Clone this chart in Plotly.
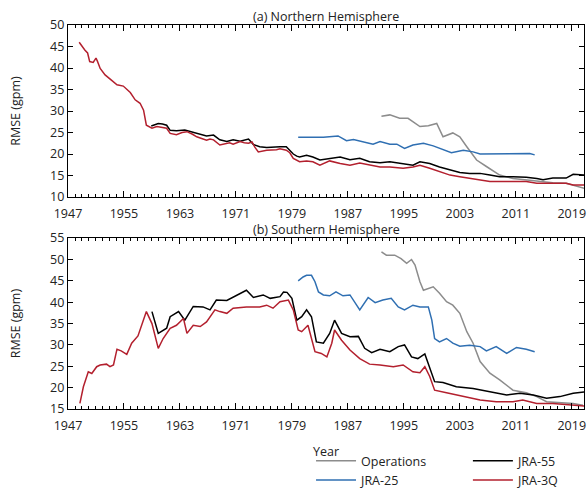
import plotly.graph_objects as go

# ---------------- Data ----------------
# (a) Northern Hemisphere
nh_ops_year = [1991.8, 1993.0, 1994.4, 1995.6, 1997.3, 1998.5, 1999.7, 2000.6, 2002.0, 2003.0,
               2004.0, 2005.4, 2006.8, 2008.7, 2010.6, 2012.5, 2014.4, 2016.3, 2018.2, 2019.2, 2020.8]
nh_ops_val = [28.8, 29.1, 28.3, 28.3, 26.4, 26.6, 27.1, 24.0, 24.9, 24.0,
              21.7, 18.6, 17.1, 15.1, 14.3, 14.0, 13.6, 13.3, 13.2, 12.8, 12.0]

nh_jra25_year = [1979.9, 1982.0, 1983.5, 1985.6, 1986.8, 1987.8, 1989.2, 1990.6, 1991.6, 1993.0,
                 1994.0, 1995.1, 1996.3, 1997.8, 1999.2, 2000.6, 2001.8, 2003.5, 2004.9, 2005.9,
                 2007.8, 2009.7, 2011.6, 2013.0, 2013.7]
nh_jra25_val = [23.9, 24.0, 23.9, 24.2, 23.1, 23.4, 22.9, 22.3, 22.9, 22.3,
                22.3, 21.3, 22.1, 22.5, 21.9, 21.1, 20.3, 20.9, 20.5, 20.0,
                20.0, 20.0, 20.1, 20.1, 19.8]

nh_jra55_year = [1958.9, 1959.9, 1960.5, 1961.1, 1961.6, 1962.5, 1963.7, 1964.5, 1965.4, 1966.1,
                 1966.8, 1967.8, 1968.7, 1969.7, 1970.6, 1971.6, 1972.8, 1973.5, 1974.4, 1975.4,
                 1976.8, 1977.3, 1978.2, 1978.7, 1979.2, 1979.7, 1980.1, 1981.1, 1982.0, 1983.0,
                 1984.4, 1985.9, 1987.3, 1988.7, 1990.1, 1991.6, 1993.0, 1994.9, 1996.3, 1997.3,
                 1998.7, 2000.1, 2001.6, 2003.0, 2004.4, 2005.9, 2007.3, 2008.7, 2010.6, 2012.5,
                 2014.0, 2014.9, 2016.3, 2018.2, 2019.2, 2020.8]
nh_jra55_val = [26.5, 27.1, 27.0, 26.7, 25.5, 25.4, 25.6, 25.2, 24.9, 24.5,
                24.2, 24.4, 23.3, 22.9, 23.3, 23.0, 23.5, 22.2, 21.7, 21.5,
                21.7, 21.7, 21.7, 20.9, 20.0, 19.5, 19.3, 19.7, 19.3, 18.6,
                19.0, 19.3, 18.7, 19.0, 18.2, 18.0, 18.2, 17.8, 17.4, 18.2,
                17.8, 17.0, 16.3, 15.7, 15.5, 15.5, 15.1, 14.7, 14.7, 14.6,
                14.3, 14.0, 14.4, 14.4, 15.3, 15.1]

nh_jra3q_year = [1948.6, 1948.9, 1949.4, 1949.8, 1950.1, 1950.6, 1951.0, 1951.2, 1951.6, 1952.3,
                 1952.8, 1953.2, 1954.0, 1954.9, 1955.9, 1956.6, 1957.3, 1957.8, 1958.2, 1959.0,
                 1959.7, 1960.4, 1961.1, 1961.6, 1962.5, 1963.3, 1964.0, 1964.8, 1965.4, 1966.1,
                 1966.8, 1967.3, 1967.8, 1968.7, 1969.4, 1970.1, 1970.6, 1971.6, 1972.2, 1972.8,
                 1973.3, 1973.7, 1974.2, 1975.4, 1976.8, 1977.3, 1978.2, 1978.7, 1979.2, 1979.7,
                 1980.1, 1981.1, 1982.0, 1983.0, 1984.4, 1985.9, 1987.3, 1988.7, 1990.1, 1991.6,
                 1993.0, 1994.9, 1996.3, 1997.3, 1998.7, 2000.1, 2001.6, 2003.0, 2004.4, 2005.9,
                 2007.3, 2008.7, 2010.6, 2012.5, 2014.0, 2016.3, 2018.2, 2019.2, 2020.8]
nh_jra3q_val = [46.0, 45.2, 44.2, 43.5, 41.5, 41.3, 42.3, 41.6, 39.9, 38.4,
                37.8, 37.2, 36.1, 35.8, 34.3, 32.6, 31.8, 30.2, 26.7, 26.0,
                26.4, 26.2, 26.0, 24.8, 24.5, 25.0, 25.2, 24.6, 24.0, 23.6,
                23.2, 23.5, 23.3, 22.1, 22.3, 22.6, 22.3, 22.9, 22.6, 22.5,
                22.8, 21.6, 20.5, 20.9, 21.0, 21.2, 20.9, 20.3, 19.0, 18.6,
                18.2, 18.4, 18.2, 17.4, 18.4, 17.8, 17.4, 17.9, 17.4, 17.0,
                17.0, 16.7, 17.0, 17.4, 16.7, 15.9, 15.1, 14.7, 14.3, 14.0,
                13.6, 13.6, 13.6, 13.6, 13.2, 13.2, 13.2, 12.8, 12.8]

# (b) Southern Hemisphere
sh_ops_year = [1991.8, 1992.5, 1993.7, 1994.6, 1995.4, 1996.1, 1996.6, 1997.3, 1997.8, 1999.2,
               2000.1, 2001.1, 2002.0, 2003.0, 2004.0, 2004.9, 2005.9, 2007.3, 2008.7, 2010.6,
               2012.5, 2014.0, 2015.4, 2017.3, 2019.2, 2020.6]
sh_ops_val = [51.8, 51.0, 51.0, 50.2, 49.1, 50.0, 48.7, 44.8, 42.8, 43.6,
              42.1, 40.1, 39.3, 37.4, 33.1, 30.4, 26.1, 23.4, 21.8, 19.4,
              18.8, 17.9, 16.7, 16.5, 16.3, 15.9]

sh_jra25_year = [1979.9, 1980.6, 1981.1, 1981.8, 1982.3, 1982.8, 1983.5, 1984.4, 1985.3, 1986.3,
                 1987.3, 1987.8, 1988.7, 1989.9, 1990.9, 1992.0, 1993.2, 1994.2, 1995.1, 1996.3,
                 1997.3, 1998.5, 1999.0, 1999.4, 2000.1, 2001.1, 2002.0, 2003.0, 2004.4, 2005.9,
                 2006.8, 2008.2, 2009.7, 2011.1, 2012.5, 2013.7]
sh_jra25_val = [45.0, 45.9, 46.3, 46.3, 44.8, 42.4, 41.7, 41.5, 42.4, 41.5,
                41.7, 40.5, 38.2, 41.1, 39.9, 40.5, 40.9, 38.9, 38.2, 39.3,
                38.9, 38.9, 35.8, 31.5, 30.7, 31.5, 30.4, 29.7, 29.9, 29.6,
                28.6, 29.6, 28.0, 29.4, 29.0, 28.4]

sh_jra55_year = [1959.0, 1959.9, 1961.1, 1961.6, 1962.8, 1963.7, 1964.9, 1966.3, 1967.3, 1968.2,
                 1969.7, 1971.1, 1972.5, 1973.5, 1974.9, 1975.9, 1977.3, 1977.8, 1978.3, 1979.0,
                 1979.7, 1980.4, 1981.1, 1981.8, 1982.5, 1983.5, 1984.4, 1985.1, 1986.1, 1987.3,
                 1988.5, 1989.4, 1990.4, 1991.6, 1993.0, 1994.2, 1995.1, 1996.1, 1997.0, 1998.0,
                 1998.7, 1999.4, 2000.6, 2002.5, 2004.9, 2007.3, 2009.7, 2011.6, 2013.5, 2015.4,
                 2017.3, 2019.2, 2020.8]
sh_jra55_val = [37.8, 32.7, 33.9, 36.6, 37.8, 35.8, 39.0, 38.9, 38.2, 40.5,
                40.4, 41.7, 42.8, 41.1, 41.7, 40.9, 41.3, 42.4, 42.3, 40.9,
                35.8, 36.6, 38.2, 36.6, 30.7, 30.4, 32.7, 35.8, 32.7, 31.9,
                32.0, 29.2, 28.2, 29.0, 28.4, 29.6, 30.0, 27.2, 26.8, 27.9,
                24.9, 21.4, 21.2, 20.2, 19.8, 19.0, 18.3, 18.7, 18.3, 17.5,
                17.9, 18.7, 19.0]

sh_jra3q_year = [1948.7, 1949.2, 1949.9, 1950.4, 1951.1, 1951.6, 1952.5, 1953.0, 1953.5, 1954.0,
                 1954.6, 1955.4, 1956.1, 1957.0, 1958.2, 1959.0, 1959.9, 1960.6, 1961.6, 1962.5,
                 1963.5, 1964.0, 1964.9, 1965.9, 1966.8, 1968.0, 1968.7, 1969.7, 1970.6, 1972.5,
                 1974.4, 1975.4, 1976.3, 1977.3, 1978.5, 1979.2, 1979.9, 1980.4, 1981.3, 1982.3,
                 1983.2, 1984.0, 1984.7, 1985.1, 1986.1, 1987.3, 1988.7, 1990.1, 1991.6, 1993.5,
                 1994.9, 1996.3, 1997.3, 1998.0, 1998.7, 1999.4, 2001.1, 2003.5, 2005.9, 2008.2,
                 2010.6, 2012.0, 2014.0, 2016.3, 2018.7, 2020.8]
sh_jra3q_val = [16.3, 20.2, 23.7, 23.3, 24.9, 25.3, 25.5, 24.9, 25.3, 29.0,
                28.6, 27.8, 30.4, 32.1, 37.8, 35.0, 29.2, 31.5, 33.9, 34.6,
                36.2, 32.7, 34.6, 34.3, 35.4, 38.2, 37.8, 37.4, 38.6, 38.9,
                38.9, 39.3, 38.6, 40.1, 40.5, 38.2, 33.5, 33.1, 34.6, 28.4,
                28.0, 27.2, 30.4, 33.5, 31.1, 28.8, 26.8, 25.5, 25.3, 24.9,
                25.3, 23.7, 23.5, 24.9, 22.6, 19.4, 18.8, 17.9, 17.1, 16.7,
                16.7, 17.1, 16.3, 16.3, 15.9, 15.7]

x_tick_vals = [1947, 1955, 1963, 1971, 1979, 1987, 1995, 2003, 2011, 2019]
x_tick_text = [str(v) for v in x_tick_vals]
nh_y_ticks = [10, 15, 20, 25, 30, 35, 40, 45, 50]
sh_y_ticks = [15, 20, 25, 30, 35, 40, 45, 50, 55]

panel_titles = ["(a) Northern Hemisphere", "(b) Southern Hemisphere"]
series_names = ["Operations", "JRA-25", "JRA-55", "JRA-3Q"]
series_colors = ["#8c8c8c", "#2f6fb2", "#000000", "#b3202e"]
legend_ids = ["legend", "legend", "legend2", "legend2"]

# ---------------- Figure ----------------
FONT = "Open Sans"
TXT = "#222"
fig = go.Figure()

nh = [(nh_ops_year, nh_ops_val), (nh_jra25_year, nh_jra25_val),
      (nh_jra55_year, nh_jra55_val), (nh_jra3q_year, nh_jra3q_val)]
sh = [(sh_ops_year, sh_ops_val), (sh_jra25_year, sh_jra25_val),
      (sh_jra55_year, sh_jra55_val), (sh_jra3q_year, sh_jra3q_val)]

for i, (xs, ys) in enumerate(nh):
    fig.add_trace(go.Scatter(x=xs, y=ys, mode="lines", name=series_names[i],
                             line=dict(color=series_colors[i], width=1.5),
                             xaxis="x", yaxis="y", showlegend=False))
for i, (xs, ys) in enumerate(sh):
    fig.add_trace(go.Scatter(x=xs, y=ys, mode="lines", name=series_names[i],
                             line=dict(color=series_colors[i], width=1.5),
                             xaxis="x2", yaxis="y2", showlegend=True,
                             legend=legend_ids[i]))

xaxis_common = dict(
    range=[1947, 2020.75], tickmode="array", tickvals=x_tick_vals, ticktext=x_tick_text,
    ticks="inside", ticklen=6, tickwidth=1, tickcolor="black",
    minor=dict(ticks="inside", ticklen=3, dtick=1, tick0=1947, tickcolor="black", tickwidth=1),
    showline=True, linecolor="black", linewidth=1.3, mirror="allticks",
    showgrid=False, zeroline=False, ticklabelstandoff=5,
    tickfont=dict(family=FONT, size=12.5, color=TXT),
)
yaxis_common = dict(
    ticks="inside", ticklen=5, tickwidth=1, tickcolor="black",
    showline=True, linecolor="black", linewidth=1.3, mirror="allticks",
    showgrid=False, zeroline=False,
    tickfont=dict(family=FONT, size=12.5, color=TXT),
    title=dict(text="RMSE (gpm)", font=dict(family=FONT, size=12.5, color=TXT), standoff=26),
)

fig.update_layout(
    width=587, height=488,
    margin=dict(l=68, r=3, t=25, b=79, autoexpand=False),
    paper_bgcolor="white", plot_bgcolor="white",
    font=dict(family=FONT, size=12.5, color=TXT),
    xaxis=dict(domain=[0, 1], anchor="y", **xaxis_common),
    yaxis=dict(domain=[0.552, 1.0], anchor="x", range=[10, 50],
               tickmode="array", tickvals=nh_y_ticks, **yaxis_common),
    xaxis2=dict(domain=[0, 1], anchor="y2",
                title=dict(text="Year", font=dict(family=FONT, size=12.5, color=TXT), standoff=14),
                **xaxis_common),
    yaxis2=dict(domain=[0, 0.445], anchor="x2", range=[15, 55],
                tickmode="array", tickvals=sh_y_ticks, **yaxis_common),
    legend=dict(x=0.471, y=-0.097, xanchor="left", yanchor="top", orientation="v",
                font=dict(family=FONT, size=12.5, color=TXT), bgcolor="rgba(0,0,0,0)",
                itemwidth=40, tracegroupgap=0),
    legend2=dict(x=0.775, y=-0.097, xanchor="left", yanchor="top", orientation="v",
                 font=dict(family=FONT, size=12.5, color=TXT), bgcolor="rgba(0,0,0,0)",
                 itemwidth=40, tracegroupgap=0),
    annotations=[
        dict(text=panel_titles[0], xref="x domain", yref="y domain", x=0.5, y=1.0,
             xanchor="center", yanchor="bottom", showarrow=False, yshift=-2,
             font=dict(family=FONT, size=12.5, color=TXT)),
        dict(text=panel_titles[1], xref="x2 domain", yref="y2 domain", x=0.5, y=1.0,
             xanchor="center", yanchor="bottom", showarrow=False, yshift=-2,
             font=dict(family=FONT, size=12.5, color=TXT)),
    ],
)

fig.write_html("out.html")
